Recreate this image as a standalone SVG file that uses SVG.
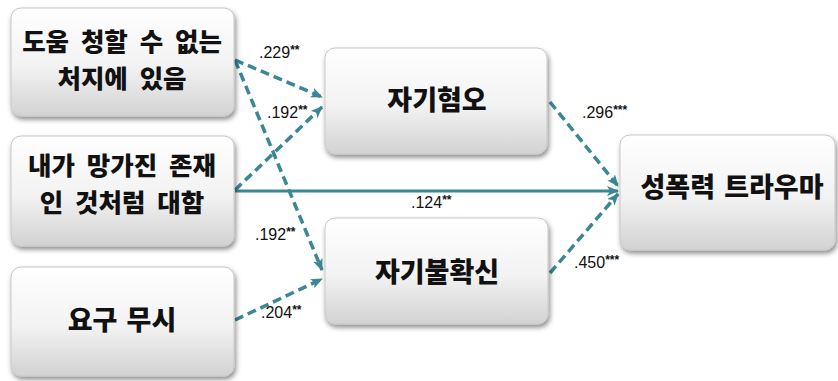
<svg xmlns="http://www.w3.org/2000/svg" width="838" height="381" viewBox="0 0 838 381">
<style>
.box{fill:url(#g);stroke:#c8c8c8;stroke-width:1;filter:url(#sh)}
.t{font-family:"Noto Sans CJK KR","Noto Sans",sans-serif;font-weight:900;font-size:27px;word-spacing:3px;fill:#111;text-anchor:middle}
.t2{font-size:25.5px;word-spacing:6px}
.lbl{font-family:"Liberation Sans",Arial,sans-serif;font-size:16px;fill:#111}
.st{font-size:12px;font-weight:bold}
.dash{fill:none;stroke:#3a8795;stroke-width:3.5;stroke-dasharray:9 5;marker-end:url(#ah)}
.solid{fill:none;stroke:#3a8795;stroke-width:3;marker-end:url(#ah)}
</style>
<defs>
<linearGradient id="g" x1="0" y1="0" x2="0" y2="1">
<stop offset="0" stop-color="#ffffff"/>
<stop offset="0.55" stop-color="#f2f2f2"/>
<stop offset="1" stop-color="#d2d2d2"/>
</linearGradient>
<filter id="sh" x="-10%" y="-10%" width="125%" height="130%">
<feDropShadow dx="1.5" dy="3" stdDeviation="2.5" flood-color="#000" flood-opacity="0.45"/>
</filter>
<marker id="ah" viewBox="0 0 12 10" refX="11" refY="5" markerWidth="12" markerHeight="10" markerUnits="userSpaceOnUse" orient="auto">
<path d="M0,0 L12,5 L0,10 L3,5 z" fill="#3a8795"/>
</marker>
</defs>
<rect width="838" height="381" fill="#ffffff"/>
<g id="connectors">
<path class="dash" d="M235,60 L322,97"/>
<path class="dash" d="M235,60 L322,270"/>
<path class="dash" d="M235,190 L322,107"/>
<path class="solid" d="M235,191 L618,191"/>
<path class="dash" d="M235,320 L322,279"/>
<path class="dash" d="M550,102 L618,186"/>
<path class="dash" d="M550,273 L618,194"/>
</g>
<g id="labels">
<text class="lbl" x="259" y="58">.229<tspan class="st" dy="-4">**</tspan></text>
<text class="lbl" x="267" y="118">.192<tspan class="st" dy="-4">**</tspan></text>
<text class="lbl" x="255" y="240">.192<tspan class="st" dy="-4">**</tspan></text>
<text class="lbl" x="411" y="208">.124<tspan class="st" dy="-4">**</tspan></text>
<text class="lbl" x="261" y="318">.204<tspan class="st" dy="-4">**</tspan></text>
<text class="lbl" x="582" y="118">.296<tspan class="st" dy="-4">***</tspan></text>
<text class="lbl" x="574" y="268">.450<tspan class="st" dy="-4">***</tspan></text>
</g>
<g id="n1"><rect class="box" x="11" y="8" width="223" height="108" rx="10"/>
<text class="t t2" x="122" y="51">도움 청할 수 없는</text><text class="t t2" x="122" y="88">처지에 있음</text></g>
<g id="n2"><rect class="box" x="11" y="136" width="223" height="110" rx="10"/>
<text class="t t2" x="122" y="175">내가 망가진 존재</text><text class="t t2" x="122" y="212">인 것처럼 대함</text></g>
<g id="n3"><rect class="box" x="11" y="267" width="223" height="109" rx="10"/>
<text class="t" x="122" y="330">요구 무시</text></g>
<g id="n4"><rect class="box" x="325" y="48" width="222" height="106" rx="10"/>
<text class="t" x="437" y="110">자기혐오</text></g>
<g id="n5"><rect class="box" x="325" y="218" width="223" height="106" rx="10"/>
<text class="t" x="437" y="282">자기불확신</text></g>
<g id="n6"><rect class="box" x="620" y="135" width="215" height="115" rx="10"/>
<text class="t" x="732" y="197">성폭력 트라우마</text></g>
</svg>
